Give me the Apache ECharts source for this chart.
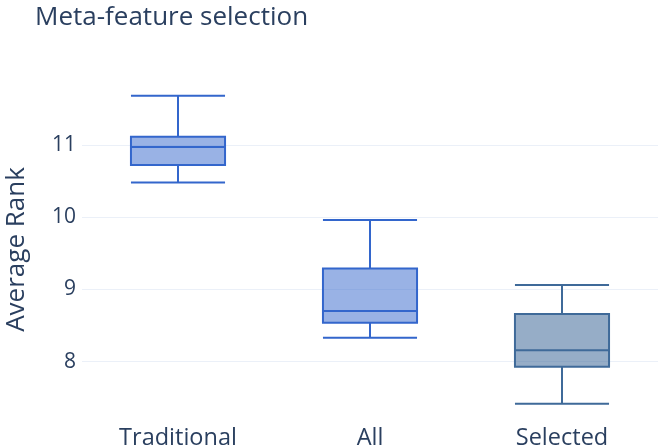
<!DOCTYPE html>
<html>
<head>
<meta charset="utf-8">
<script src="https://cdn.jsdelivr.net/npm/echarts@6/dist/echarts.min.js"></script>
<style>
  html, body { margin: 0; padding: 0; background: #fff; }
  #chart { width: 659px; height: 448px; }
</style>
</head>
<body>
<div id="chart"></div>
<script>
// Box statistics per feature set: [lower whisker, Q1, median, Q3, upper whisker]
const categories = ['Traditional', 'All', 'Selected'];
const traditionalStats = [10.48, 10.72, 10.97, 11.11, 11.68];
const allStats = [8.33, 8.54, 8.70, 9.29, 9.96];
const selectedStats = [7.42, 7.93, 8.16, 8.66, 9.06];
const yTicks = [8, 9, 10, 11];

const boxColors = ['#3366cc', '#3366cc', '#3f6a99'];
const boxFills = ['rgba(51,102,204,0.5)', 'rgba(51,102,204,0.5)', 'rgba(63,106,153,0.55)'];
const statsList = [traditionalStats, allStats, selectedStats];

const fontFamily = '"Open Sans", "Noto Sans", sans-serif';
const textColor = '#2a3f5f';

const chart = echarts.init(document.getElementById('chart'), null, { renderer: 'canvas' });

chart.setOption({
  animation: false,
  backgroundColor: '#fff',
  title: {
    text: 'Meta-feature selection',
    left: 30,
    top: 0,
    textStyle: { fontFamily, fontSize: 26, fontWeight: 'normal', color: textColor }
  },
  grid: { left: 82, right: 1, top: 79, bottom: 28, containLabel: false, outerBoundsMode: 'none' },
  xAxis: {
    type: 'category',
    data: categories,
    axisLine: { show: false },
    axisTick: { show: false },
    splitLine: { show: false },
    axisLabel: { fontFamily, fontSize: 23.5, color: textColor, margin: 6 }
  },
  yAxis: {
    type: 'value',
    min: 7.194,
    max: 11.91,
    name: 'Average Rank',
    nameLocation: 'middle',
    nameGap: 52,
    nameMoveOverlap: false,
    nameTextStyle: { fontFamily, fontSize: 26, color: textColor },
    axisLine: { show: false },
    axisTick: { show: false, customValues: yTicks },
    axisLabel: { fontFamily, fontSize: 21, color: textColor, margin: 6, customValues: yTicks },
    splitLine: { show: true, lineStyle: { color: '#ebf0f8', width: 1 } }
  },
  series: [{
    type: 'boxplot',
    boxWidth: ['49%', '49%'],
    data: statsList.map((s, i) => ({
      value: s,
      itemStyle: { color: boxFills[i], borderColor: boxColors[i], borderWidth: 2 }
    })),
    emphasis: { disabled: true }
  }]
});
</script>
</body>
</html>
